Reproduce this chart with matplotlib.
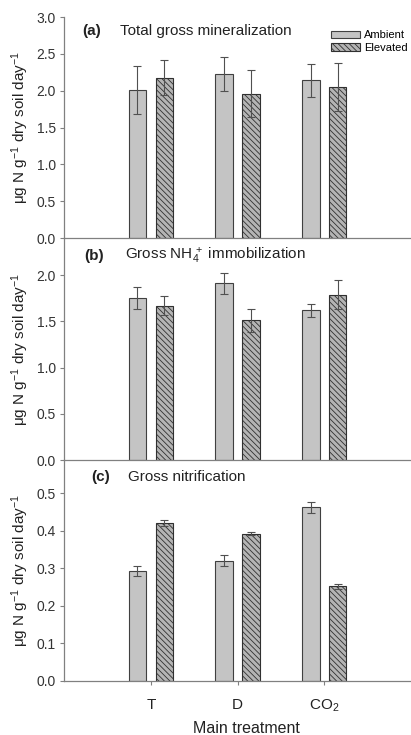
import matplotlib.pyplot as plt
import numpy as np

plt.rcParams['font.family'] = ['Liberation Sans', 'DejaVu Sans']
plt.rcParams['mathtext.fontset'] = 'custom'
plt.rcParams['mathtext.rm'] = 'Liberation Sans'
plt.rcParams['mathtext.it'] = 'Liberation Sans:italic'
plt.rcParams['hatch.linewidth'] = 0.6

groups = ['T', 'D', 'CO$_2$']
series = ['Ambient', 'Elevated']

# panel (a) total gross mineralization
min_amb = [2.01, 2.23, 2.14]
min_amb_err = [0.32, 0.23, 0.22]
min_elev = [2.18, 1.96, 2.05]
min_elev_err = [0.24, 0.32, 0.33]

# panel (b) gross NH4+ immobilization
imm_amb = [1.75, 1.91, 1.62]
imm_amb_err = [0.12, 0.11, 0.07]
imm_elev = [1.67, 1.51, 1.79]
imm_elev_err = [0.10, 0.12, 0.16]

# panel (c) gross nitrification
nit_amb = [0.293, 0.320, 0.462]
nit_amb_err = [0.013, 0.015, 0.014]
nit_elev = [0.420, 0.392, 0.252]
nit_elev_err = [0.008, 0.004, 0.006]

panels = [
    ('(a)', 'Total gross mineralization', min_amb, min_amb_err, min_elev, min_elev_err,
     3.0, np.arange(0, 3.01, 0.5)),
    ('(b)', 'Gross NH$_4^{\\,+}$ immobilization', imm_amb, imm_amb_err, imm_elev, imm_elev_err,
     2.4, np.arange(0, 2.01, 0.5)),
    ('(c)', 'Gross nitrification', nit_amb, nit_amb_err, nit_elev, nit_elev_err,
     0.588, np.arange(0, 0.51, 0.1)),
]
# label placement per panel (axes fraction)
tag_x = [0.052, 0.058, 0.078]
title_x = [0.161, 0.176, 0.184]
text_y = [0.937, 0.919, 0.923]

fig = plt.figure(figsize=(4.11, 7.35), dpi=100)
left, width = 0.156, 0.844
bottoms = [0.676, 0.374, 0.0735]
heights = [0.3007, 0.302, 0.3007]

spine_col = '#808080'
x = np.arange(1, len(groups) + 1)
off = 0.155
w = 0.2

for i, (tag, title, amb, amb_e, elev, elev_e, ytop, yt) in enumerate(panels):
    ax = fig.add_axes([left, bottoms[i], width, heights[i]])
    ax.patch.set_alpha(0)
    ax.bar(x - off, amb, w, color='#c4c4c4', edgecolor='#404040', linewidth=0.8,
           label=series[0], zorder=2)
    ax.bar(x + off, elev, w, color='#b4b4b4', edgecolor='#303030', linewidth=0.8,
           hatch='\\\\\\\\\\\\', label=series[1], zorder=2)
    ax.errorbar(x - off, amb, yerr=amb_e, fmt='none', ecolor='#505050',
                elinewidth=0.8, capsize=3.2, capthick=0.8, zorder=3)
    ax.errorbar(x + off, elev, yerr=elev_e, fmt='none', ecolor='#505050',
                elinewidth=0.8, capsize=3.2, capthick=0.8, zorder=3)
    ax.set_xlim(0, 4)
    ax.set_ylim(0, ytop)
    ax.set_yticks(yt)
    ax.set_yticklabels(['%.1f' % v for v in yt], fontsize=10, color='#333333')
    for s in ['top', 'right']:
        ax.spines[s].set_visible(False)
    for s in ['left', 'bottom']:
        ax.spines[s].set_color(spine_col)
        ax.spines[s].set_linewidth(0.9)
    ax.tick_params(axis='y', direction='out', length=3, color=spine_col, pad=3)
    ax.set_ylabel('μg N g$^{-1}$ dry soil day$^{-1}$', fontsize=11, color='#222222',
                  labelpad=4)
    ax.text(tag_x[i], text_y[i], tag, transform=ax.transAxes, fontsize=11,
            fontweight='bold', va='center', color='#222222')
    ax.text(title_x[i], text_y[i], title, transform=ax.transAxes, fontsize=11,
            va='center', color='#222222')
    if i < 2:
        ax.set_xticks([])
    else:
        ax.set_xticks(x)
        ax.set_xticklabels(groups, fontsize=11, color='#222222')
        ax.tick_params(axis='x', direction='out', length=3, color=spine_col, pad=9)
    if i == 0:
        ax.legend(loc='upper right', bbox_to_anchor=(1.0, 0.955), fontsize=8,
                  frameon=False, handlelength=2.6, handleheight=0.7,
                  labelspacing=0.2, handletextpad=0.4, borderpad=0.1,
                  borderaxespad=0.2)

fig.text(0.599, 0.0095, 'Main treatment', fontsize=11.5, color='#222222',
         ha='center', va='center')

fig.savefig('out.png', dpi=100)
